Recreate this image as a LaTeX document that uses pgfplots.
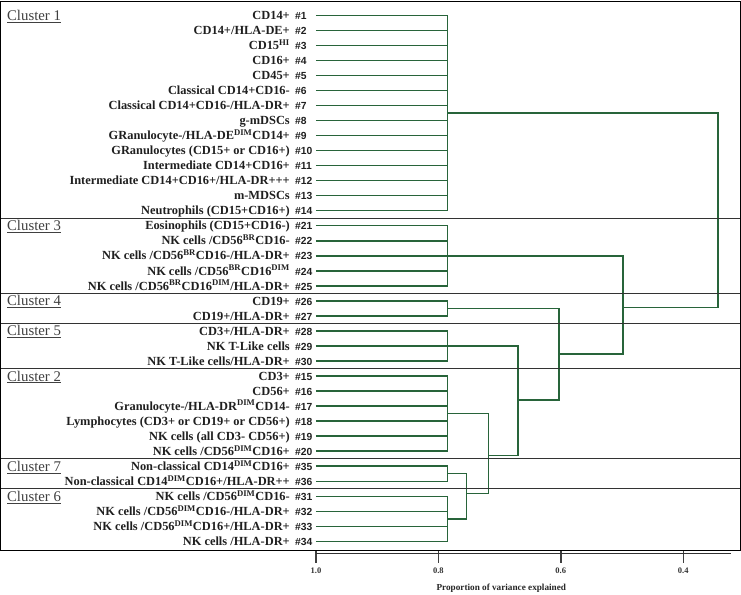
\documentclass[border=0pt]{standalone}
\usepackage{pgfplots}
\pgfplotsset{compat=1.18}
\usepackage{fontspec}
\setmainfont{Liberation Serif}
\newfontfamily\numfont{Liberation Sans}
\definecolor{dgreen}{RGB}{40,100,58}
\newcommand{\sups}[1]{\textsuperscript{#1}}
\newcommand{\leaf}[3]{%
  \node[anchor=base east, inner sep=0pt, xshift=-26pt, yshift=-4.2pt,
        font=\bfseries\fontsize{12.4}{14}\selectfont, text=black!88] at (axis cs:1,#1) {#2};
  \node[anchor=base west, inner sep=0pt, xshift=-21pt, yshift=-4.2pt,
        font=\numfont\bfseries\fontsize{10.3}{12}\selectfont, text=black!88] at (axis cs:1,#1) {\##3};
}
\newcommand{\clab}[2]{%
  \node[anchor=base west, inner sep=0pt, yshift=-5pt,
        font=\fontsize{14.8}{16}\selectfont, text=black!75] at (axis cs:1.505,#1) {\underline{Cluster #2}};
}
\newcommand{\sep}[1]{%
  \draw[black!80, line width=1pt] (axis cs:1.5147,#1) -- (axis cs:0.3072,#1);
}
\begin{document}
\begin{tikzpicture}
\useasboundingbox (-1pt,-43.3pt) rectangle (740pt,550.7pt);
\begin{axis}[
  at={(0pt,0pt)}, anchor=south west,
  scale only axis, width=739pt, height=548.7pt,
  x dir=reverse, y dir=reverse,
  xmin=0.3072, xmax=1.5147, ymin=-0.885, ymax=35.62,
  axis line style={black, line width=1pt},
  xtick={0.4,0.6,0.8,1.0}, xticklabels={0.4,0.6,0.8,1.0},
  xtick pos=bottom, ytick=\empty,
  tick align=outside, major tick length=12pt,
  every tick/.style={black!75, line width=1.4pt},
  xticklabel style={font=\bfseries\fontsize{8.5}{10}\selectfont, text=black!80, yshift=-1.5pt},
  xlabel={Proportion of variance explained},
  xlabel style={at={(axis description cs:0.677,-0.068)}, anchor=center,
    font=\bfseries\fontsize{9.2}{11}\selectfont, text=black!85},
  clip=false,
  unbounded coords=jump,
]
% leaves
\addplot[dgreen, line width=1.5pt] coordinates {
(1,0) (0.785,0) (nan,nan) (1,1) (0.785,1) (nan,nan) (1,2) (0.785,2) (nan,nan)
(1,3) (0.785,3) (nan,nan) (1,4) (0.785,4) (nan,nan) (1,5) (0.785,5) (nan,nan)
(1,6) (0.785,6) (nan,nan) (1,7) (0.785,7) (nan,nan) (1,8) (0.785,8) (nan,nan)
(1,9) (0.785,9) (nan,nan) (1,10) (0.785,10) (nan,nan) (1,11) (0.785,11) (nan,nan)
(1,12) (0.785,12) (nan,nan) (1,13) (0.785,13) (nan,nan) (1,14) (0.785,14) (nan,nan)
(1,15) (0.785,15) (nan,nan) (1,16) (0.785,16) (nan,nan) (1,17) (0.785,17) (nan,nan)
(1,18) (0.785,18) (nan,nan) (1,19) (0.785,19) (nan,nan) (1,20) (0.785,20) (nan,nan)
(1,21) (0.785,21) (nan,nan) (1,22) (0.785,22) (nan,nan) (1,23) (0.785,23) (nan,nan)
(1,24) (0.785,24) (nan,nan) (1,25) (0.785,25) (nan,nan) (1,26) (0.785,26) (nan,nan)
(1,27) (0.785,27) (nan,nan) (1,28) (0.785,28) (nan,nan) (1,29) (0.785,29) (nan,nan)
(1,30) (0.785,30) (nan,nan) (1,31) (0.785,31) (nan,nan) (1,32) (0.785,32) (nan,nan)
(1,33) (0.785,33) (nan,nan) (1,34) (0.785,34) (nan,nan) (1,35) (0.785,35)
};
% merges
\addplot[dgreen, line width=1.5pt] coordinates {
(0.785,0) (0.785,13) (nan,nan) (0.785,6.5) (0.343,6.5) (0.343,19.43) (0.498,19.43) (nan,nan)
(0.785,14) (0.785,18) (nan,nan) (0.785,16) (0.498,16) (0.498,22.53) (0.603,22.53) (nan,nan)
(0.785,19) (0.785,20) (nan,nan) (0.785,19.5) (0.603,19.5) (0.603,25.6) (0.670,25.6) (nan,nan)
(0.785,21) (0.785,23) (nan,nan) (0.785,22) (0.670,22) (0.670,29.3) (0.718,29.3) (nan,nan)
(0.785,24) (0.785,29) (nan,nan) (0.785,26.5) (0.718,26.5) (0.718,31.8) (0.754,31.8) (nan,nan)
(0.785,30) (0.785,31) (nan,nan) (0.785,30.5) (0.754,30.5) (0.754,33.5) (0.785,33.5) (nan,nan)
(0.785,32) (0.785,35)
};
% cluster separators
\sep{13.5}\sep{18.5}\sep{20.5}\sep{23.5}\sep{29.5}\sep{31.5}
% bottom scale line
\draw[black!80, line width=1.1pt] ([yshift=-2.6pt]axis cs:1.0,35.62) -- ([yshift=-2.6pt]axis cs:0.322,35.62);
% cluster labels
\clab{0}{1}\clab{14}{3}\clab{19}{4}\clab{21}{5}\clab{24}{2}\clab{30}{7}\clab{32}{6}
% leaf labels
\leaf{0}{CD14+}{1}
\leaf{1}{CD14+/HLA-DE+}{2}
\leaf{2}{CD15\sups{HI}}{3}
\leaf{3}{CD16+}{4}
\leaf{4}{CD45+}{5}
\leaf{5}{Classical CD14+CD16-}{6}
\leaf{6}{Classical CD14+CD16-/HLA-DR+}{7}
\leaf{7}{g-mDSCs}{8}
\leaf{8}{GRanulocyte-/HLA-DE\sups{DIM}CD14+}{9}
\leaf{9}{GRanulocytes (CD15+ or CD16+)}{10}
\leaf{10}{Intermediate CD14+CD16+}{11}
\leaf{11}{Intermediate CD14+CD16+/HLA-DR+++}{12}
\leaf{12}{m-MDSCs}{13}
\leaf{13}{Neutrophils (CD15+CD16+)}{14}
\leaf{14}{Eosinophils (CD15+CD16-)}{21}
\leaf{15}{NK cells /CD56\sups{BR}CD16-}{22}
\leaf{16}{NK cells /CD56\sups{BR}CD16-/HLA-DR+}{23}
\leaf{17}{NK cells /CD56\sups{BR}CD16\sups{DIM}}{24}
\leaf{18}{NK cells /CD56\sups{BR}CD16\sups{DIM}/HLA-DR+}{25}
\leaf{19}{CD19+}{26}
\leaf{20}{CD19+/HLA-DR+}{27}
\leaf{21}{CD3+/HLA-DR+}{28}
\leaf{22}{NK T-Like cells}{29}
\leaf{23}{NK T-Like cells/HLA-DR+}{30}
\leaf{24}{CD3+}{15}
\leaf{25}{CD56+}{16}
\leaf{26}{Granulocyte-/HLA-DR\sups{DIM}CD14-}{17}
\leaf{27}{Lymphocytes (CD3+ or CD19+ or CD56+)}{18}
\leaf{28}{NK cells (all CD3- CD56+)}{19}
\leaf{29}{NK cells /CD56\sups{DIM}CD16+}{20}
\leaf{30}{Non-classical CD14\sups{DIM}CD16+}{35}
\leaf{31}{Non-classical CD14\sups{DIM}CD16+/HLA-DR++}{36}
\leaf{32}{NK cells /CD56\sups{DIM}CD16-}{31}
\leaf{33}{NK cells /CD56\sups{DIM}CD16-/HLA-DR+}{32}
\leaf{34}{NK cells /CD56\sups{DIM}CD16+/HLA-DR+}{33}
\leaf{35}{NK cells /HLA-DR+}{34}
\end{axis}
\end{tikzpicture}
\end{document}
